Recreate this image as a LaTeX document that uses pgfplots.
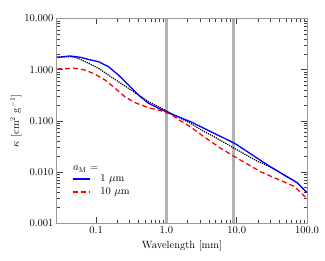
\documentclass[border=0pt]{standalone}
\usepackage{pgfplots}
\pgfplotsset{compat=1.18}
\begin{document}
\begin{tikzpicture}
\begin{loglogaxis}[
  scale only axis, width=250pt, height=204.5pt,
  xmin=0.0277, xmax=100, ymin=0.001, ymax=10,
  xtick={0.1,1,10,100}, xticklabels={0.1,1.0,10.0,100.0},
  ytick={0.001,0.01,0.1,1,10}, yticklabels={0.001,0.010,0.100,1.000,10.000},
  tick align=inside,
  major tick length=6pt, minor tick length=3pt,
  every tick/.style={black!75, line width=0.5pt},
  axis line style={black!40, line width=1pt},
  tick label style={font=\fontsize{10.5}{12}\selectfont},
  label style={font=\fontsize{10.5}{12}\selectfont},
  xlabel={Wavelength [mm]}, ylabel={$\kappa$ [cm$^2$ g$^{-1}$]},
  ylabel style={yshift=-4pt},
  legend style={draw=none, fill=none, at={(0.06,0.28)}, anchor=north west,
    font=\fontsize{10.5}{12}\selectfont, row sep=0.5pt, inner sep=0pt},
  legend cell align=left,
]
\addlegendimage{legend image code/.code={\node[anchor=west, inner sep=0pt] at (0pt,0pt) {$a_{\mathrm{M}}$ =};}}
\addlegendentry{}
\addlegendimage{draw=blue, color=blue, line width=1.6pt, sharp plot}
\addlegendentry{1 $\mu$m}
\addlegendimage{draw=red, color=red, dash pattern=on 5pt off 3pt, line width=1.6pt, sharp plot}
\addlegendentry{10 $\mu$m}
\addplot[black!30, line width=3pt, forget plot] coordinates {(1,0.001) (1,10)};
\addplot[black!30, line width=3pt, forget plot] coordinates {(9,0.001) (9,10)};
\addplot[black, densely dotted, line width=1.2pt, forget plot] coordinates {
(0.0277,1.74) (0.0425,1.80) (0.05,1.74) (0.06,1.58) (0.078,1.33) (0.108,1.06)
(0.15,0.78) (0.208,0.58) (0.289,0.43) (0.40,0.318) (0.558,0.235) (0.776,0.188)
(1.05,0.15) (2.2,0.089) (3.4,0.062) (5.0,0.047) (9.2,0.029) (20,0.016)
(30,0.0126) (73,0.0061) (100,0.0039)};
\addplot[blue, line width=1.3pt, forget plot] coordinates {
(0.0277,1.74) (0.0425,1.85) (0.06,1.74) (0.078,1.58) (0.108,1.43) (0.15,1.14)
(0.208,0.78) (0.289,0.50) (0.40,0.318) (0.558,0.219) (0.776,0.175) (1.08,0.142)
(2.2,0.096) (4.0,0.064) (9.4,0.036) (30,0.0126) (73,0.0061) (100,0.0039)};
\addplot[red, dash pattern=on 5pt off 3pt, line width=1.3pt, forget plot] coordinates {
(0.0277,1.03) (0.05,1.06) (0.07,0.98) (0.097,0.81) (0.134,0.625) (0.187,0.43)
(0.26,0.29) (0.36,0.225) (0.558,0.18) (0.86,0.155) (1.14,0.135) (1.58,0.10)
(2.2,0.076) (3.4,0.049) (5.9,0.029) (9.4,0.0197) (22,0.010) (66,0.0052) (100,0.003)};
\end{loglogaxis}
\path ([xshift=-57pt,yshift=-37pt]current axis.south west) rectangle ([xshift=18pt,yshift=18.5pt]current axis.north east);
\end{tikzpicture}
\end{document}
